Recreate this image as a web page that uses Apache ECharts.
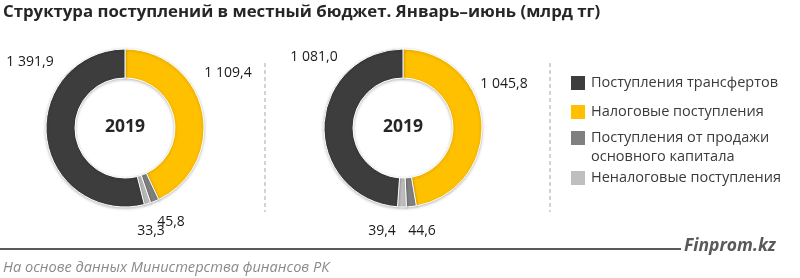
<!DOCTYPE html>
<html><head><meta charset="utf-8">
<script src="https://cdn.jsdelivr.net/npm/echarts@6/dist/echarts.min.js"></script>
<style>html,body{margin:0;padding:0;background:#fff}#c{width:800px;height:278px}</style>
</head><body><div id="c"></div>
<script>
// ---- data ----
const titleText = 'Структура поступлений в местный бюджет. Январь–июнь (млрд тг)';
const categories = ['Налоговые поступления', 'Поступления от продажи основного капитала', 'Неналоговые поступления', 'Поступления трансфертов'];
const legendOrder = ['Поступления трансфертов', 'Налоговые поступления', 'Поступления от продажи основного капитала', 'Неналоговые поступления'];
const leftValues = [1109.4, 45.8, 33.3, 1391.9];
const rightValues = [1045.8, 44.6, 39.4, 1081.0];
const centerLabels = ['2019', '2019'];
const sourceText = 'На основе данных Министерства финансов РК';
const brandText = 'Finprom.kz';

// ---- style / layout ----
const colorMap = {
  'Поступления трансфертов': '#3d3d3d',
  'Налоговые поступления': '#ffc000',
  'Поступления от продажи основного капитала': '#808080',
  'Неналоговые поступления': '#bfbfbf'
};
const pieCenters = [[125, 128], [403, 128]];
const pieRadius = [50, 79];
const labelPos = [
  [[228, 73], [171, 222], [151, 231], [30, 62]],
  [[504, 84], [422, 231], [382, 231], [314, 57]]
];
const legendTops = [74, 103, 109.5, 169];
const FONT = '"Open Sans", "Noto Sans", sans-serif';
const MULTI = 'Поступления от продажи основного капитала';

function fmt(v) {
  const s = v.toFixed(1).split('.');
  return s[0].replace(/\B(?=(\d{3})+(?!\d))/g, ' ') + ',' + s[1];
}

function makeSeries(values, idx) {
  return {
    type: 'pie',
    center: pieCenters[idx],
    radius: pieRadius,
    startAngle: 90,
    clockwise: true,
    silent: true,
    avoidLabelOverlap: false,
    itemStyle: { borderColor: '#fff', borderWidth: 1, shadowBlur: 3, shadowColor: 'rgba(0,0,0,0.25)', shadowOffsetY: 1 },
    label: {
      show: true, position: 'outside',
      formatter: p => fmt(p.value),
      fontFamily: FONT, fontSize: 14, color: '#1a1a1a'
    },
    labelLine: { show: false },
    labelLayout: p => {
      const pos = labelPos[idx][p.dataIndex];
      return { x: pos[0], y: pos[1], align: 'center', verticalAlign: 'middle' };
    },
    data: categories.map((c, i) => ({ name: c, value: values[i], itemStyle: { color: colorMap[c] } }))
  };
}

const legends = legendOrder.map((name, i) => ({
  data: [name],
  orient: 'vertical',
  left: 569,
  top: legendTops[i],
  padding: 0,
  itemWidth: 16,
  itemHeight: 16,
  itemGap: 4,
  icon: 'rect',
  selectedMode: false,
  formatter: n => n === MULTI ? '\nПоступления от продажи\nосновного капитала' : n,
  textStyle: {
    fontFamily: FONT, fontSize: 14.5, color: '#3a3a3a',
    lineHeight: name === MULTI ? 19 : 18
  }
}));

const chart = echarts.init(document.getElementById('c'), null, { renderer: 'canvas' });
chart.setOption({
  backgroundColor: '#fff',
  animation: false,
  title: [
    { text: titleText, left: 3, top: 4, padding: 0, textStyle: { fontFamily: FONT, fontWeight: 'bold', fontSize: 16.8, color: '#262626' } },
    ...centerLabels.map((t, i) => ({
      text: t, left: pieCenters[i][0], top: pieCenters[i][1] - 10, textAlign: 'center', padding: 0,
      textStyle: { fontFamily: FONT, fontWeight: 'bold', fontSize: 17.5, color: '#262626' }
    }))
  ],
  legend: legends,
  graphic: [
    { type: 'line', shape: { x1: 265, y1: 63, x2: 265, y2: 212 }, style: { stroke: '#d3d3d3', lineWidth: 2, lineDash: [4, 3] } },
    { type: 'line', shape: { x1: 550, y1: 63, x2: 550, y2: 212 }, style: { stroke: '#d3d3d3', lineWidth: 2, lineDash: [4, 3] } },
    { type: 'line', shape: { x1: 0, y1: 249, x2: 681, y2: 249 }, style: { stroke: '#595959', lineWidth: 2 } },
    { type: 'text', x: 684, y: 246, style: { text: brandText, fontFamily: FONT, fontStyle: 'italic', fontWeight: 'bold', fontSize: 17.5, fill: '#595959', verticalAlign: 'middle' } },
    { type: 'text', x: 3, y: 268, style: { text: sourceText, fontFamily: FONT, fontStyle: 'italic', fontSize: 14.6, fill: '#8a8a8a', verticalAlign: 'middle' } }
  ],
  series: [makeSeries(leftValues, 0), makeSeries(rightValues, 1)]
});
</script>
</body></html>
